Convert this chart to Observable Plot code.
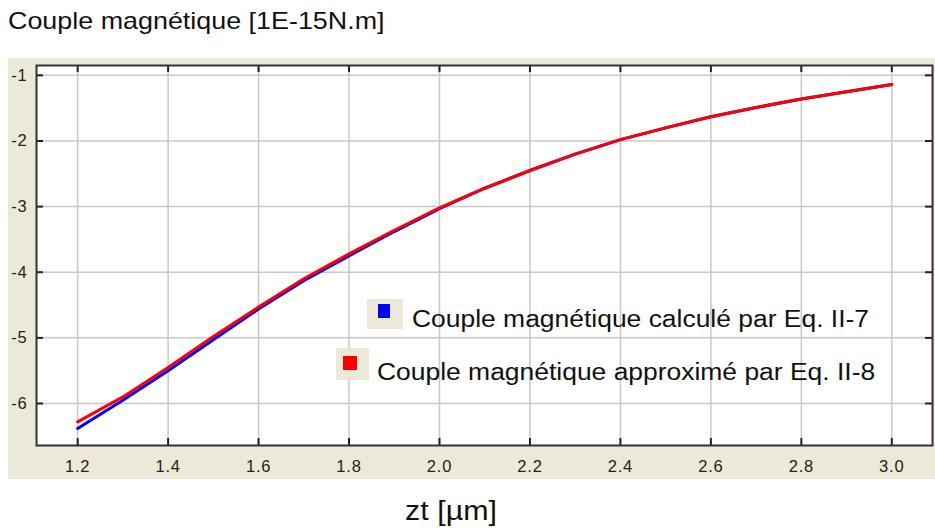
<!DOCTYPE html>
<html>
<head>
<meta charset="utf-8">
<script src="https://cdn.jsdelivr.net/npm/d3@7"></script>
<script src="https://cdn.jsdelivr.net/npm/@observablehq/plot@0.6"></script>
<style>
  html, body { margin: 0; padding: 0; background: #fff; width: 935px; height: 528px; overflow: hidden; font-family: "Liberation Sans", Arial, sans-serif; }
  #title { position: absolute; left: 8px; top: 7px; font-size: 24px; line-height: normal; color: #111; white-space: nowrap; transform: scaleX(1.12); transform-origin: 0 0; }
  #panel { position: absolute; left: 8px; top: 58px; width: 927px; height: 421px; background: #ece9d8; }
  #xlabel { position: absolute; left: 451px; top: 496px; font-size: 27px; line-height: normal; color: #111; white-space: nowrap; transform: translateX(-50%) scaleX(1.125); }
  .leg { position: absolute; font-size: 23.5px; line-height: normal; color: #111; white-space: nowrap; transform: scaleX(1.125); transform-origin: 0 0; }
  .box { position: absolute; background: #ece9d8; }
  .sq { position: absolute; }
  svg.chart text { font-size: 16.5px !important; letter-spacing: 0.8px; fill: #222; }
</style>
</head>
<body>
<div id="title">Couple magnétique [1E-15N.m]</div>
<div id="panel"></div>
<div id="xlabel">zt [µm]</div>
<script>
const zt = [1.2, 1.3, 1.4, 1.5, 1.6, 1.7, 1.8, 1.9, 2.0, 2.1, 2.2, 2.3, 2.4, 2.5, 2.6, 2.7, 2.8, 2.9, 3.0];
const coupleCalc = [-6.38, -5.95, -5.50, -5.03, -4.56, -4.13, -3.75, -3.38, -3.03, -2.72, -2.45, -2.20, -1.98, -1.80, -1.63, -1.49, -1.36, -1.25, -1.14];
const coupleApprox = [-6.28, -5.90, -5.45, -4.98, -4.53, -4.10, -3.72, -3.36, -3.02, -2.72, -2.45, -2.20, -1.98, -1.80, -1.63, -1.49, -1.36, -1.25, -1.14];
const xTicks = [1.2, 1.4, 1.6, 1.8, 2.0, 2.2, 2.4, 2.6, 2.8, 3.0];
const yTicks = [-1, -2, -3, -4, -5, -6];
const seriesNames = ["Couple magnétique calculé par Eq. II-7", "Couple magnétique approximé par Eq. II-8"];
const seriesColors = ["#0000ff", "#ff0000"];

const calc = zt.map((x, i) => ({x, y: coupleCalc[i]}));
const approx = zt.map((x, i) => ({x, y: coupleApprox[i]}));

const W = 927, H = 421, mT = 7, mB = 34, mL = 28, mR = 3;
const innerH = H - mT - mB, innerW = W - mL - mR;
const tickLen = 7;

const chart = Plot.plot({
  width: W, height: H,
  marginTop: mT, marginBottom: mB, marginLeft: mL, marginRight: mR,
  style: { background: "transparent", fontFamily: "'Liberation Sans', Arial, sans-serif", color: "#222" },
  x: { domain: [1.109, 3.09] },
  y: { domain: [-6.64, -0.85] },
  marks: [
    Plot.rect([0], {x1: 1.109, x2: 3.09, y1: -6.64, y2: -0.85, fill: "#fff"}),
    Plot.gridX(xTicks, {stroke: "#c8c8c8", strokeOpacity: 1, strokeWidth: 1.5}),
    Plot.gridY(yTicks, {stroke: "#c8c8c8", strokeOpacity: 1, strokeWidth: 1.5}),
    Plot.tickX(xTicks, {x: d => d, insetTop: innerH - tickLen, stroke: "#222", strokeWidth: 2}),
    Plot.tickX(xTicks, {x: d => d, insetBottom: innerH - tickLen, stroke: "#222", strokeWidth: 2}),
    Plot.tickY(yTicks, {y: d => d, insetRight: innerW - tickLen, stroke: "#222", strokeWidth: 2}),
    Plot.tickY(yTicks, {y: d => d, insetLeft: innerW - tickLen, stroke: "#222", strokeWidth: 2}),
    Plot.axisX(xTicks, {tickSize: 0, tickPadding: 15, tickFormat: d => d.toFixed(1), label: null}),
    Plot.axisY(yTicks, {tickSize: 0, tickPadding: 9, tickFormat: d => String(d), label: null}),
    Plot.line(calc, {x: "x", y: "y", stroke: seriesColors[0], strokeWidth: 3}),
    Plot.line(approx, {x: "x", y: "y", stroke: seriesColors[1], strokeWidth: 3}),
    Plot.frame({stroke: "#333", strokeWidth: 2})
  ]
});
chart.classList.add("chart");
chart.style.position = "absolute";
chart.style.left = "8px";
chart.style.top = "58px";
document.body.appendChild(chart);

// legend
const legendItems = [
  {box: [367, 299, 36, 30], sq: [378, 304, 12, 14], text: [412, 305.5]},
  {box: [336, 348, 33, 32], sq: [343, 356, 14, 14], text: [377, 358.5]}
];
legendItems.forEach((it, i) => {
  const b = document.createElement("div");
  b.className = "box";
  Object.assign(b.style, {left: it.box[0] + "px", top: it.box[1] + "px", width: it.box[2] + "px", height: it.box[3] + "px"});
  document.body.appendChild(b);
  const s = document.createElement("div");
  s.className = "sq";
  Object.assign(s.style, {left: it.sq[0] + "px", top: it.sq[1] + "px", width: it.sq[2] + "px", height: it.sq[3] + "px", background: seriesColors[i]});
  document.body.appendChild(s);
  const t = document.createElement("div");
  t.className = "leg";
  t.textContent = seriesNames[i];
  Object.assign(t.style, {left: it.text[0] + "px", top: it.text[1] + "px"});
  document.body.appendChild(t);
});
</script>
</body>
</html>
